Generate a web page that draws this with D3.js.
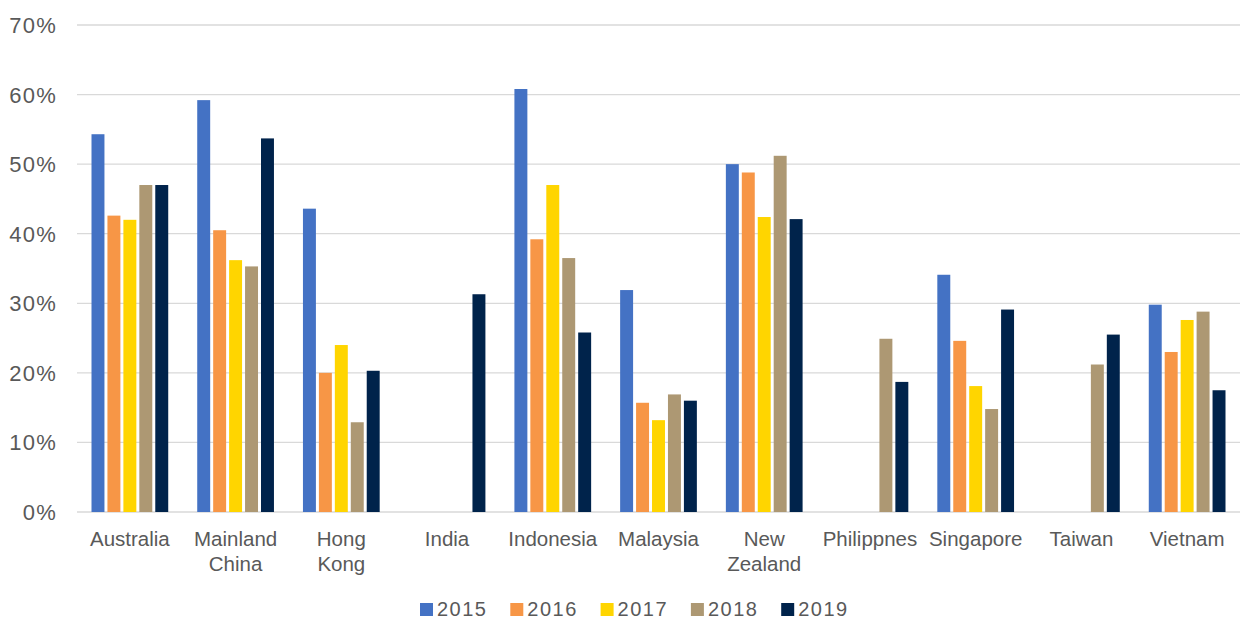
<!DOCTYPE html>
<html>
<head>
<meta charset="utf-8">
<script src="https://cdn.jsdelivr.net/npm/d3@7"></script>
<style>
  body { margin: 0; background: #fff; }
  svg text { font-family: "Liberation Sans", Arial, sans-serif; fill: #595959; }
</style>
</head>
<body>
<div id="chart"></div>
<script>
var categories = ['Australia', 'Mainland China', 'Hong Kong', 'India', 'Indonesia', 'Malaysia',
  'New Zealand', 'Philippnes', 'Singapore', 'Taiwan', 'Vietnam'];
var years = ['2015', '2016', '2017', '2018', '2019'];

// share per year, null where there is no bar
var v2015 = [54.3, 59.2, 43.6, null, 60.8, 31.9, 50.0, null, 34.1, null, 29.8];
var v2016 = [42.6, 40.5, 20.0, null, 39.2, 15.7, 48.8, null, 24.6, null, 23.0];
var v2017 = [42.0, 36.2, 24.0, null, 47.0, 13.2, 42.4, null, 18.1, null, 27.6];
var v2018 = [47.0, 35.3, 12.9, null, 36.5, 16.9, 51.2, 24.9, 14.8, 21.2, 28.8];
var v2019 = [47.0, 53.7, 20.3, 31.3, 25.8, 16.0, 42.1, 18.7, 29.1, 25.5, 17.5];
var yTicks = [0, 10, 20, 30, 40, 50, 60, 70];

var series = [v2015, v2016, v2017, v2018, v2019];
var colors = ['#4472C4', '#F79646', '#FFD500', '#AD9873', '#00234B'];

var width = 1240, height = 621;
var plotLeft = 77, plotRight = 1240, plotTop = 25, plotBottom = 512;

var svg = d3.select('#chart')
  .append('svg')
  .attr('width', width)
  .attr('height', height);

var x0 = d3.scaleBand()
  .domain(categories)
  .range([plotLeft, plotRight]);

var x1 = d3.scaleBand()
  .domain(years)
  .range([14.5, x0.bandwidth() - 14.5])
  .paddingInner(3 / 16);

var y = d3.scaleLinear()
  .domain([0, 70])
  .range([plotBottom, plotTop]);

// gridlines
svg.append('g')
  .selectAll('line')
  .data(yTicks)
  .enter()
  .append('line')
  .attr('x1', plotLeft)
  .attr('x2', plotRight)
  .attr('y1', function(d) { return y(d); })
  .attr('y2', function(d) { return y(d); })
  .attr('stroke', '#d9d9d9')
  .attr('stroke-width', 1.3);

// y labels
svg.append('g')
  .selectAll('text')
  .data(yTicks)
  .enter()
  .append('text')
  .attr('x', 57)
  .attr('y', function(d) { return y(d) + 8; })
  .attr('text-anchor', 'end')
  .style('font-size', '22px')
  .style('letter-spacing', '1.2px')
  .text(function(d) { return d + '%'; });

// bars
var groups = svg.append('g')
  .selectAll('g')
  .data(years)
  .enter()
  .append('g')
  .attr('fill', function(d, i) { return colors[i]; });

groups.selectAll('rect')
  .data(function(d, i) {
    return series[i].map(function(v, j) {
      return { year: d, cat: categories[j], value: v };
    }).filter(function(o) { return o.value != null; });
  })
  .enter()
  .append('rect')
  .attr('x', function(d) { return x0(d.cat) + x1(d.year); })
  .attr('width', x1.bandwidth())
  .attr('y', function(d) { return y(d.value); })
  .attr('height', function(d) { return y(0) - y(d.value); });

// category labels
var labels = svg.append('g')
  .selectAll('text')
  .data(categories)
  .enter()
  .append('text')
  .attr('text-anchor', 'middle')
  .attr('transform', function(d) {
    return 'translate(' + (x0(d) + x0.bandwidth() / 2) + ',546)';
  })
  .style('font-size', '20.5px');

labels.selectAll('tspan')
  .data(function(d) { return d.split(' '); })
  .enter()
  .append('tspan')
  .attr('x', 0)
  .attr('y', function(d, i) { return i * 25; })
  .text(function(d) { return d; });

// legend
var legend = svg.append('g')
  .selectAll('g')
  .data(years)
  .enter()
  .append('g')
  .attr('transform', function(d, i) { return 'translate(' + (420 + i * 90.3) + ',603)'; });

legend.append('rect')
  .attr('width', 13)
  .attr('height', 13)
  .attr('fill', function(d, i) { return colors[i]; });

legend.append('text')
  .attr('x', 17)
  .attr('y', 13)
  .style('font-size', '20px')
  .style('letter-spacing', '1.5px')
  .text(function(d) { return d; });
</script>
</body>
</html>
